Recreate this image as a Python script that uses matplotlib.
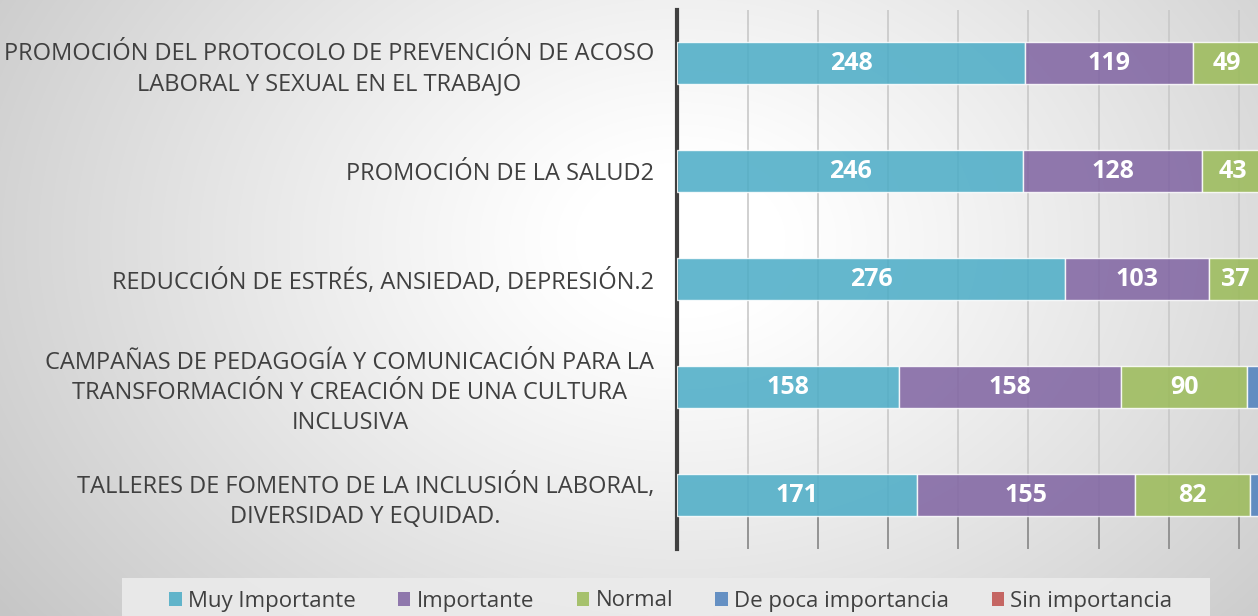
import matplotlib
matplotlib.use("Agg")
import matplotlib.pyplot as plt
import numpy as np
from matplotlib.patches import Patch, Rectangle

categories = [
    "PROMOCIÓN DEL PROTOCOLO DE PREVENCIÓN DE ACOSO\nLABORAL Y SEXUAL EN EL TRABAJO",
    "PROMOCIÓN DE LA SALUD2",
    "REDUCCIÓN DE ESTRÉS, ANSIEDAD, DEPRESIÓN.2",
    "CAMPAÑAS DE PEDAGOGÍA Y COMUNICACIÓN PARA LA\nTRANSFORMACIÓN Y CREACIÓN DE UNA CULTURA\nINCLUSIVA",
    "TALLERES DE FOMENTO DE LA INCLUSIÓN LABORAL,\nDIVERSIDAD Y EQUIDAD.",
]
series_names = ["Muy Importante", "Importante", "Normal", "De poca importancia", "Sin importancia"]
muy_importante = [248, 246, 276, 158, 171]
importante = [119, 128, 103, 158, 155]
normal = [49, 43, 37, 90, 82]
de_poca = [8, 12, 10, 15, 14]
sin_importancia = [2, 3, 2, 5, 4]
colors = ["#4BACC6", "#8064A2", "#9BBB59", "#4F81BD", "#C0504D"]

plt.rcParams['font.family'] = ['Open Sans', 'DejaVu Sans']

W, H = 1258, 616
fig = plt.figure(figsize=(W / 100, H / 100), dpi=100)

# background radial gradient
bg = fig.add_axes([0, 0, 1, 1], zorder=-10)
yy, xx = np.mgrid[0:H, 0:W]
cx, cy = 680, 240
r = np.sqrt(((xx - cx) / 700.0) ** 2 + ((yy - cy) / 520.0) ** 2)
val = 1.0 - 0.21 * np.clip(r - 0.15, 0, None) ** 1.1
val = np.clip(val, 0.78, 1.0)
bg.imshow(np.dstack([val, val, val]), aspect='auto', extent=[0, 1, 0, 1], origin='upper')
bg.set_xlim(0, 1)
bg.set_ylim(0, 1)
bg.axis('off')
# legend background box
bg.add_patch(Rectangle((122 / W, 0), (1210 - 122) / W, (H - 578) / H,
                       facecolor='#ebebeb', edgecolor='none', alpha=0.9, zorder=2))

left = 677.3 / W
bottom = 1 - 549 / H
top = 1 - 9.5 / H
ax = fig.add_axes([left, bottom, 1 - left, top - bottom])
ax.set_facecolor('none')

xmax = (W - 677.3) / 1.404
ax.set_xlim(0, xmax)
ax.set_ylim(4.5, -0.5)

ypos = np.arange(len(categories))
data = [muy_importante, importante, normal, de_poca, sin_importancia]
lefts = np.zeros(len(categories))
for vals, col in zip(data, colors):
    vals = np.array(vals, dtype=float)
    ax.barh(ypos, vals, left=lefts, height=0.39, color=col, alpha=0.86,
            edgecolor=(1, 1, 1, 0.7), linewidth=1.0, zorder=3)
    for y, v, l in zip(ypos, vals, lefts):
        cxv = l + v / 2
        if cxv + 14 < xmax:
            ax.text(cxv, y, f"{int(v)}", ha='center', va='center', color='white',
                    fontsize=18, fontweight='bold', zorder=5, clip_on=True)
    lefts += vals

ax.set_xticks(np.arange(50, xmax, 50))
ax.xaxis.grid(True, color='#c8c8c8', linewidth=1.2, zorder=0)
ax.set_axisbelow(True)
ax.tick_params(axis='x', direction='in', length=24, width=1.2, color='#8a8a8a',
               labelbottom=False, bottom=True, top=False)
ax.set_yticks(ypos)
ax.set_yticklabels(categories, fontsize=17, color='#404040', multialignment='center',
                   linespacing=1.32)
ax.tick_params(axis='y', length=0, pad=16.5)
for s in ['top', 'right', 'bottom']:
    ax.spines[s].set_visible(False)
ax.spines['left'].set_color('#404040')
ax.spines['left'].set_linewidth(3)

handles = [Patch(facecolor=c, edgecolor='none', alpha=0.86) for c in colors]
leg = fig.legend(handles, series_names, loc='center', bbox_to_anchor=(671 / W, 1 - 601 / H),
                 ncol=5, frameon=False, fontsize=16, handlelength=0.55, handleheight=0.6,
                 handletextpad=0.3, columnspacing=1.9, borderpad=0.2,
                 labelcolor='#404040')

fig.savefig("out.png", dpi=100)
